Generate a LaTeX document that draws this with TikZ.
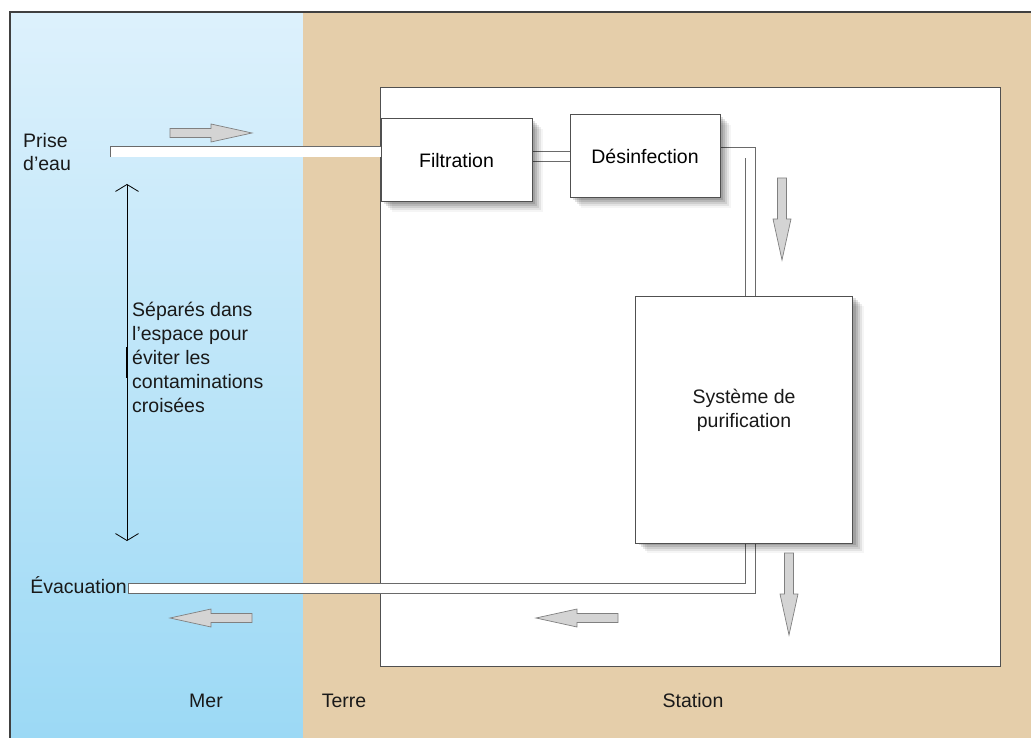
\documentclass[tikz,border=0pt]{standalone}
\usepackage{fontspec}
\setmainfont{Liberation Sans}
\usetikzlibrary{arrows.meta,calc,positioning,shadows}
\definecolor{SeaTop}{HTML}{DDF1FC}
\definecolor{SeaBot}{HTML}{9CD9F5}
\definecolor{Land}{HTML}{E5CEAA}
\definecolor{Edge}{HTML}{505050}
\definecolor{FlowGray}{HTML}{D4D4D4}
\pgfdeclarelayer{back}
\pgfdeclarelayer{pipes}
\pgfsetlayers{back,pipes,main}

\begin{document}
\begin{tikzpicture}[x=1pt, y=-1pt,
		font=\fontsize{19.5}{23.5}\selectfont,
		unit/.style={draw=Edge, line width=1pt, fill=white, inner sep=0pt,
			general shadow={shadow xshift=11pt, shadow yshift=-10pt, fill=black, opacity=0.04},
			general shadow={shadow xshift=9pt, shadow yshift=-8pt, fill=black, opacity=0.07},
			general shadow={shadow xshift=7pt, shadow yshift=-6pt, fill=black, opacity=0.09},
			general shadow={shadow xshift=5pt, shadow yshift=-4pt, fill=black, opacity=0.11},
			general shadow={shadow xshift=3pt, shadow yshift=-2pt, fill=black, opacity=0.12}},
		pipe/.style={draw=Edge!85, line width=0.9pt, double=white, double distance=9.2pt, line cap=rect, line join=miter},
		flow/.style={draw=gray, fill=FlowGray, line width=0.7pt},
		sep/.style={{Straight Barb[length=7pt,width=23pt]}-{Straight Barb[length=7pt,width=23pt]}, line width=0.8pt},
		txt/.style={inner sep=0pt, text=black!90}]
		\useasboundingbox (0,0) rectangle (1031,738);
		\begin{pgfonlayer}{back}
			\shade[top color=SeaTop, bottom color=SeaBot] (10,12) rectangle (303,738);
			\fill[Land] (303,12) rectangle (1031,738);
			\draw[Edge!80!black, line width=1.2pt] (10,738) -- (10,12) -- (1031,12);
			\node[draw=Edge, line width=1pt, fill=white, minimum width=620pt, minimum height=578pt, inner sep=0pt] (station) at (690,377) {};
		\end{pgfonlayer}
		\node[unit, minimum width=151pt, minimum height=83pt] (filt) at (456.5,160.5) {Filtration};
		\node[unit, minimum width=150pt, minimum height=83pt] (desinf) at (645,156.5) {Désinfection};
		\node[unit, minimum width=217pt, minimum height=247pt] (purif) at (744,419.5) {};
		\node[txt, align=center] (purif label) at (744,410.5) {Système de\\purification};
		\coordinate (intake) at (115.5,152);
		\coordinate (outlet) at (133.5,588.5);
		\begin{pgfonlayer}{pipes}
			\draw[pipe] (intake) -- (intake -| filt.west);
			\draw[pipe] (filt.east |- desinf) -- (desinf.west);
			\draw[pipe] ([yshift=3.5pt]desinf.east) -| ([xshift=6.5pt]purif.north);
			\draw[pipe] ([xshift=6.5pt]purif.south) |- (outlet);
		\end{pgfonlayer}
		\coordinate (septop) at (127,184);
		\coordinate (sepbot) at (127,541);
		\draw[sep] (septop) -- (sepbot);
		\draw[line width=2pt] (127,347) -- (127,378);
		\foreach \x/\y/\a in {170/133/0, 782/178/-90, 789/553/-90, 618/618/180, 252/618/180}
		\draw[flow, shift={(\x,\y)}, rotate=\a] (0,-4.5) -- (41,-4.5) -- (41,-9) -- (82,0) -- (41,9) -- (41,4.5) -- (0,4.5) -- cycle;
		\node[txt, align=left, anchor=north west] (prise) at (23,133) {Prise\\d’eau};
		\node[txt, anchor=base east] (evac) at (127,593) {Évacuation};
		\node[txt, align=left, anchor=north west, font=\fontsize{19.5}{24}\selectfont] (sep text) at (132,301.5) {Séparés dans\\l’espace pour\\éviter les\\contaminations\\croisées};
		\foreach \p/\x/\t in {mer/206/Mer, terre/344/Terre, site/693/Station}
		\node[txt, anchor=base] (\p) at (\x,707.5) {\t};
	\end{tikzpicture}
\end{document}
